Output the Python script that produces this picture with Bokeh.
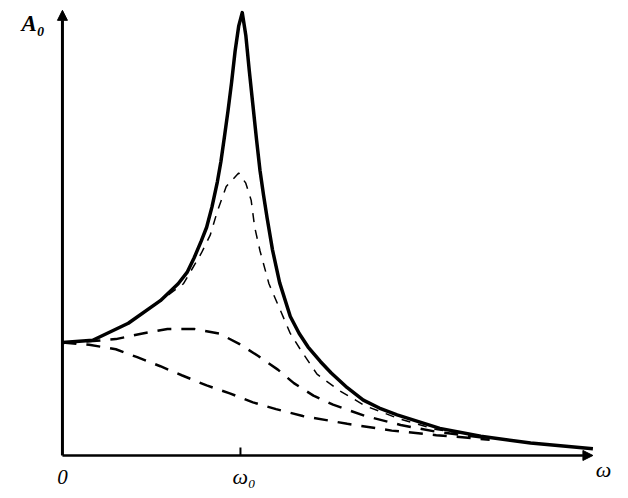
from bokeh.plotting import figure
from bokeh.models import Arrow, NormalHead, Range1d
from bokeh.core.properties import value
from bokeh.embed import file_html
from bokeh.resources import INLINE

# Resonance curves: amplitude A0 (in units of the static value) vs. frequency (in units of omega0)
tick_values = [0, 1]
tick_labels = ["0", "ω₀"]

omega_solid = [0.00, 0.17, 0.37, 0.55, 0.65, 0.70, 0.74, 0.78, 0.81, 0.84, 0.87, 0.89, 0.91, 0.93,
               0.95, 0.97, 0.99, 1.01, 1.03, 1.05, 1.07, 1.09, 1.11, 1.13, 1.15, 1.18, 1.22, 1.28,
               1.33, 1.38, 1.45, 1.51, 1.60, 1.69, 1.78, 1.88, 2.00, 2.12, 2.35, 2.63, 2.98]
amp_solid = [1.00, 1.02, 1.17, 1.37, 1.52, 1.62, 1.75, 1.90, 2.02, 2.20, 2.42, 2.60, 2.82, 3.05,
             3.30, 3.58, 3.80, 3.92, 3.72, 3.40, 3.10, 2.80, 2.52, 2.30, 2.10, 1.82, 1.53, 1.23,
             1.08, 0.96, 0.83, 0.73, 0.60, 0.49, 0.42, 0.36, 0.30, 0.24, 0.17, 0.11, 0.06]

omega_d1 = [0.00, 0.17, 0.37, 0.55, 0.68, 0.78, 0.83, 0.87, 0.92, 0.99, 1.03, 1.06, 1.08, 1.11,
            1.16, 1.22, 1.28, 1.34, 1.43, 1.55, 1.70, 1.90, 2.10, 2.40]
amp_d1 = [1.00, 1.02, 1.17, 1.37, 1.52, 1.79, 1.95, 2.16, 2.38, 2.50, 2.41, 2.26, 2.02, 1.81,
          1.52, 1.30, 1.08, 0.93, 0.72, 0.58, 0.44, 0.32, 0.23, 0.16]

omega_d2 = [0.00, 0.15, 0.30, 0.45, 0.59, 0.74, 0.88, 0.99, 1.10, 1.21, 1.30, 1.41, 1.52,
            1.70, 1.90, 2.10, 2.40]
amp_d2 = [1.00, 1.01, 1.03, 1.08, 1.12, 1.12, 1.08, 0.99, 0.88, 0.76, 0.64, 0.53, 0.45,
          0.35, 0.27, 0.21, 0.15]

omega_d3 = [0.00, 0.15, 0.30, 0.42, 0.55, 0.67, 0.81, 0.94, 1.07, 1.20, 1.35, 1.60, 1.85, 2.10, 2.40]
amp_d3 = [1.00, 0.98, 0.94, 0.87, 0.79, 0.71, 0.62, 0.55, 0.47, 0.41, 0.35, 0.28, 0.22, 0.18, 0.14]

p = figure(width=612, height=490, output_backend="svg", toolbar_location=None,
           x_range=Range1d(-0.348, 3.090), y_range=Range1d(-0.310, 4.027),
           min_border=0)
p.axis.visible = False
p.outline_line_color = None
p.xgrid.visible = False
p.ygrid.visible = False
p.background_fill_color = "white"
p.border_fill_color = "white"

serif = value("Liberation Serif")

# axes with arrowheads
p.add_layout(Arrow(end=NormalHead(size=10, fill_color="black", line_color="black"),
                   x_start=0, y_start=0, x_end=0, y_end=3.94, line_width=3))
p.add_layout(Arrow(end=NormalHead(size=10, fill_color="black", line_color="black"),
                   x_start=0, y_start=0, x_end=2.98, y_end=0, line_width=2.5))
# tick mark at omega0
p.segment(x0=tick_values[1:], y0=[0], x1=tick_values[1:], y1=[0.07], line_color="black", line_width=2)

# curves
p.line(omega_solid, amp_solid, line_color="black", line_width=3.5, line_join="round")
p.line(omega_d1, amp_d1, line_color="black", line_width=1.5, line_dash="9 8")
p.line(omega_d2, amp_d2, line_color="black", line_width=2.5, line_dash="14 10")
p.line(omega_d3, amp_d3, line_color="black", line_width=2.5, line_dash="14 10")

# labels
p.text(x=[0.0], y=[-0.19], text=[tick_labels[0]], text_font=serif, text_font_style="italic",
       text_font_size="21px", text_align="center", text_baseline="middle")
p.text(x=[1.02], y=[-0.19], text=[tick_labels[1]], text_font=serif, text_font_style="italic",
       text_font_size="22px", text_align="center", text_baseline="middle")
p.text(x=[-0.165], y=[3.82], text=["A₀"], text_font=serif, text_font_style="bold italic",
       text_font_size="23px", text_align="center", text_baseline="middle")
p.text(x=[3.04], y=[-0.12], text=["ω"], text_font=serif, text_font_style="italic",
       text_font_size="22px", text_align="center", text_baseline="middle")

open("out.html", "w").write(file_html(p, INLINE))
